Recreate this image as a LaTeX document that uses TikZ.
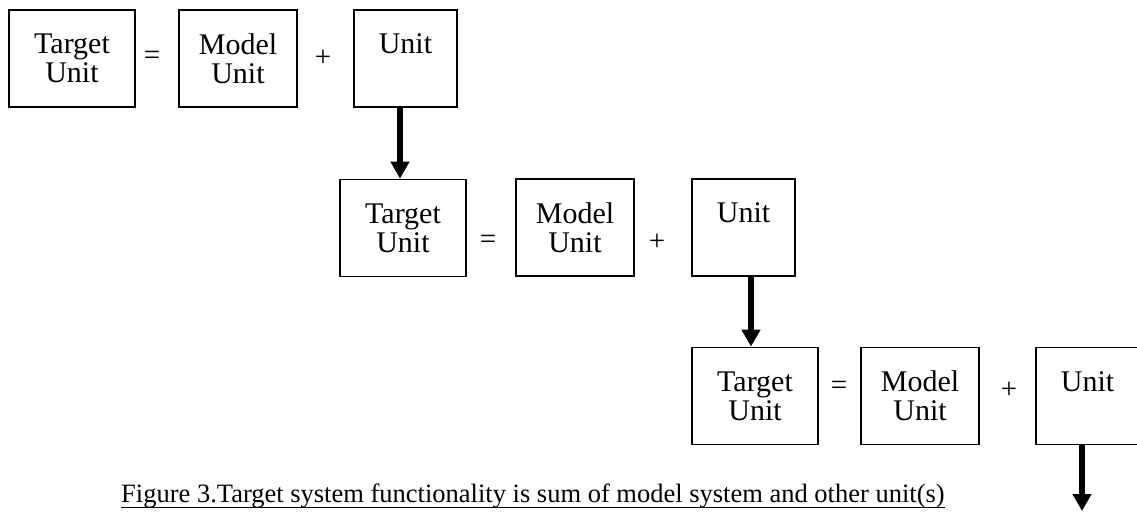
\documentclass[tikz,border=0pt]{standalone}
\usepackage{fontspec}
\setmainfont{Liberation Serif}
\usetikzlibrary{arrows.meta,calc}
\begin{document}
\begin{tikzpicture}[x=1pt,y=-1pt,
  unitbox/.style={draw,line width=1.8pt,inner sep=0pt,align=center,
    font=\fontsize{30}{29}\selectfont},
  tbox/.style={unitbox,minimum width=126pt,minimum height=97pt},
  mbox/.style={unitbox,minimum width=118pt,minimum height=97pt},
  ubox/.style={unitbox,minimum width=103pt,minimum height=97pt},
  op/.style={inner sep=0pt,font=\fontsize{29}{29}\selectfont},
  feed/.style={line width=5.5pt,-{Triangle[length=17pt,width=18pt]}}]
\useasboundingbox (0,0) rectangle (1137,512);
\clip (0,0) rectangle (1137,512);

% first row
\node[tbox] (T1) at (72,58.5) {Target\\Unit};
\node[op]   (eq1) at (152,57.5) {=};
\node[mbox] (M1) at (238,58.5) {Model\\Unit};
\node[op]   (pl1) at (323,58) {+};
\node[ubox] (U1) at (405.5,58.5) {Unit\\\phantom{Unit}};

% second row
\node[tbox] (T2) at (403,228) {Target\\Unit};
\node[op]   (eq2) at (488,241.5) {=};
\node[mbox] (M2) at (575,227.5) {Model\\Unit};
\node[op]   (pl2) at (657,242) {+};
\node[ubox] (U2) at (743.5,227.5) {Unit\\\phantom{Unit}};

% third row
\node[tbox] (T3) at (755,396) {Target\\Unit};
\node[op]   (eq3) at (839,388) {=};
\node[mbox] (M3) at (920,396) {Model\\Unit};
\node[op]   (pl3) at (1009,390) {+};
\node[ubox] (U3) at (1087.5,396) {Unit\\\phantom{Unit}};

% links from each extra unit down to the next target unit
\draw[feed] ($(T2.north |- U1.south)+(-3,0)$) -- ($(T2.north)+(-3,0)$);
\draw[feed] ($(T3.north |- U2.south)+(-4,0)$) -- ($(T3.north)+(-4,0)$);
\coordinate (out) at (1082,511);
\draw[feed] (out |- U3.south) -- (out);

% caption
\node[inner sep=0pt,anchor=base west,font=\fontsize{26.5}{28}\selectfont]
  (cap) at (121,502) {Figure 3.Target system functionality is sum of model system and other unit(s)};
\draw[line width=1.6pt] ([yshift=-5.5pt]cap.base west) -- ([yshift=-5.5pt]cap.base east);
\end{tikzpicture}
\end{document}
